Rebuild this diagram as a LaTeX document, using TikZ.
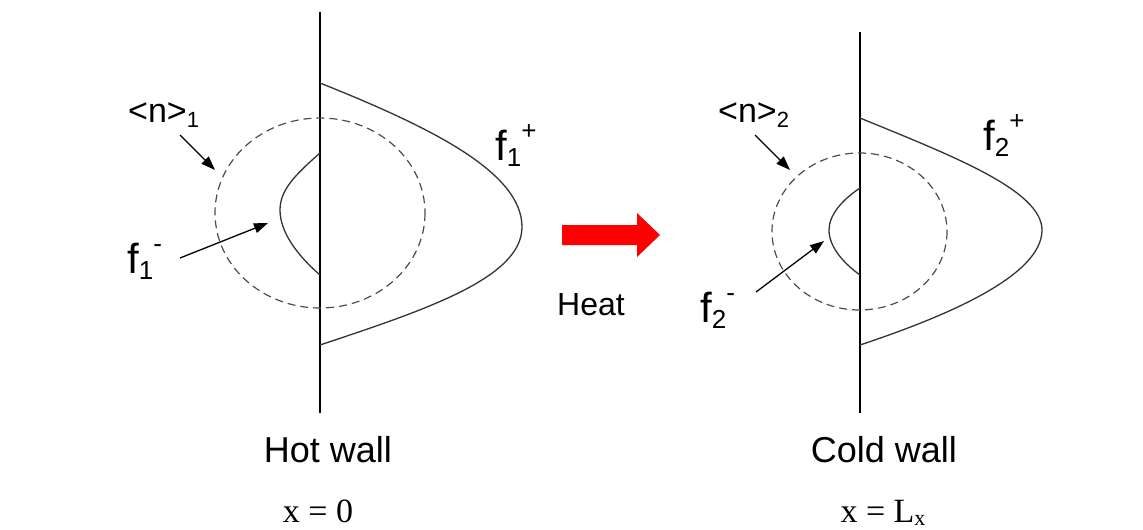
\documentclass[tikz,border=0pt]{standalone}
\usepackage{fontspec}
\setmainfont{Liberation Sans}
\newfontfamily\serifface{Liberation Serif}
\usetikzlibrary{arrows.meta}
\newcommand\flab[2]{{\fontsize{42}{42}\selectfont f}{\fontsize{26}{26}\selectfont\raisebox{-6pt}{#1}\raisebox{21pt}{#2}}}
\newcommand\nlab[1]{{\fontsize{34}{34}\selectfont <n>}{\fontsize{22}{22}\selectfont\raisebox{-5pt}{#1}}}
\tikzset{
  wall/.style={line width=1.4pt,black},
  dist/.style={line width=1.3pt,black!80},
  dashcirc/.style={line width=1.2pt,black!70,dash pattern=on 8pt off 5pt},
  pointer/.style={line width=1.3pt,-{Triangle[length=14pt,width=10pt]}},
  lab/.style={inner sep=0pt,anchor=base west},
  captext/.style={inner sep=0pt,anchor=base,font=\fontsize{36}{36}\selectfont},
  eqtext/.style={inner sep=0pt,anchor=base,font=\serifface\fontsize{34}{34}\selectfont},
}
\begin{document}
\begin{tikzpicture}[x=1pt,y=-1pt]
\useasboundingbox (0,0) rectangle (1143,530);
% walls
\coordinate (w1t) at (320,12);
\coordinate (w1b) at (320,413);
\coordinate (w2t) at (860,32);
\coordinate (w2b) at (860,413);
\draw[wall] (w1t) -- (w1b);
\draw[wall] (w2t) -- (w2b);
% left distributions
\draw[dist] (320,83) .. controls (430,127) and (522,172) .. (522,227)
  .. controls (522,278) and (425,310) .. (320,345);
\draw[dist] (320,153) .. controls (295,175) and (280,190) .. (280,210)
  .. controls (280,232) and (297,255) .. (320,275);
\draw[dashcirc] (320,213) ellipse [x radius=105, y radius=95];
% right distributions
\draw[dist] (860,118) .. controls (950,155) and (1042,190) .. (1042,230)
  .. controls (1042,275) and (950,315) .. (860,345);
\draw[dist] (860,188) .. controls (842,200) and (829,215) .. (829,230)
  .. controls (829,246) and (842,262) .. (860,275);
\draw[dashcirc] (859.5,231.5) ellipse [x radius=87.5, y radius=78.5];
% labels
\node[lab] (n1) at (128,122) {\nlab{1}};
\node[lab] (f1m) at (127,273) {\flab{1}{-}};
\node[lab] (f1p) at (495,160) {\flab{1}{+}};
\node[lab] (n2) at (718,122) {\nlab{2}};
\node[lab] (f2m) at (700,322) {\flab{2}{-}};
\node[lab] (f2p) at (983,150) {\flab{2}{+}};
% pointers
\coordinate (n1s) at (180,135); \coordinate (n1e) at (215,170);
\coordinate (f1s) at (180,258); \coordinate (f1e) at (268,223);
\coordinate (n2s) at (755,135); \coordinate (n2e) at (790,170);
\coordinate (f2s) at (756,292); \coordinate (f2e) at (824,241);
\draw[pointer] (n1s) -- (n1e);
\draw[pointer] (f1s) -- (f1e);
\draw[pointer] (n2s) -- (n2e);
\draw[pointer] (f2s) -- (f2e);
% heat arrow
\fill[red] (562,225) -- (637,225) -- (637,213) -- (660,235) -- (637,257) -- (637,245) -- (562,245) -- cycle;
\node[lab,font=\fontsize{32}{32}\selectfont] (heat) at (557,315) {Heat};
% captions
\node[captext] (hot) at (328,462) {Hot wall};
\node[captext] (cold) at (884,462) {Cold wall};
\node[eqtext] (x0) at (318,522) {x = 0};
\node[eqtext] (xl) at (883,522) {x = L\raisebox{-3pt}{\fontsize{22}{22}\selectfont x}};
\end{tikzpicture}
\end{document}
